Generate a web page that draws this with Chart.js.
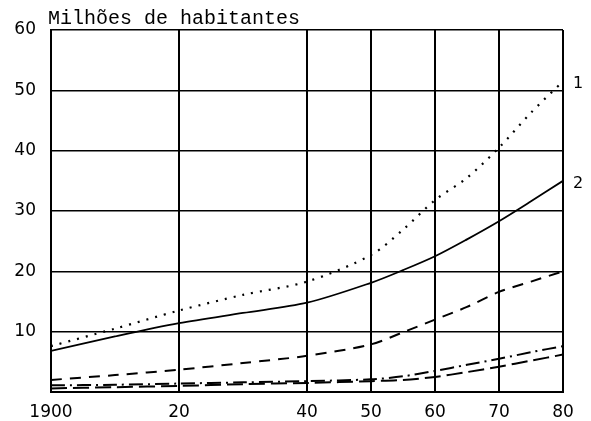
<!DOCTYPE html>
<html>
<head>
<meta charset="utf-8">
<script src="https://cdn.jsdelivr.net/npm/chart.js@4/dist/chart.umd.min.js"></script>
<style>
html,body{margin:0;padding:0;background:#fff;}
#wrap{width:591px;height:421px;position:relative;}
</style>
</head>
<body>
<div id="wrap"><canvas id="c" width="591" height="421"></canvas></div>
<script>
const titleText = "Milhões de habitantes";
const years = [1900, 1910, 1920, 1930, 1940, 1950, 1955, 1960, 1965, 1970, 1975, 1980];
const xTicks = [1900, 1920, 1940, 1950, 1960, 1970, 1980];
const xTickLabels = ["1900", "20", "40", "50", "60", "70", "80"];
const yTicks = [0, 10, 20, 30, 40, 50, 60];
const series1 = [7.6, 10.5, 13.5, 16.1, 18.3, 22.7, 26.9, 31.8, 35.5, 40.5, 46.3, 51.5];
const series2 = [6.8, 9.2, 11.4, 13.1, 14.8, 18.1, 20.2, 22.5, 25.3, 28.3, 31.6, 35.0];
const series3 = [2.0, 2.8, 3.7, 4.8, 6.0, 7.9, 9.9, 12.0, 14.1, 16.6, 18.3, 20.0];
const series4 = [1.1, 1.2, 1.4, 1.6, 1.8, 2.1, 2.6, 3.5, 4.5, 5.5, 6.6, 7.6];
const series5 = [0.6, 0.8, 1.0, 1.3, 1.5, 1.8, 2.0, 2.5, 3.3, 4.2, 5.2, 6.2];
const seriesLabels = ["1", "2", "", "", ""];

function pts(vals){ return years.map((y,i)=>({x:y, y:vals[i]})); }

const textPlugin = {
  id: 'texts',
  afterDraw(chart){
    const ctx = chart.ctx, ca = chart.chartArea;
    const xs = chart.scales.x, ys = chart.scales.y;
    ctx.save();
    ctx.fillStyle = '#000';
    ctx.font = '20px "Liberation Mono"';
    ctx.textAlign = 'left';
    ctx.textBaseline = 'alphabetic';
    ctx.fillText(titleText, ca.left - 3, ca.top - 6);
    ctx.font = '16px "DejaVu Sans"';
    ctx.textBaseline = 'middle';
    chart.data.datasets.forEach((ds, i) => {
      const lab = seriesLabels[i];
      if (!lab) return;
      const last = ds.data[ds.data.length - 1].y;
      ctx.fillText(lab, xs.right + 10, ys.getPixelForValue(last) + 3);
    });
    ctx.restore();
  }
};

new Chart(document.getElementById('c'), {
  type: 'line',
  data: {
    datasets: [
      {data: pts(series1), borderColor:'#000', borderWidth:2.2, borderDash:[2,7], pointRadius:0, tension:0.3},
      {data: pts(series2), borderColor:'#000', borderWidth:1.8, pointRadius:0, tension:0.3},
      {data: pts(series3), borderColor:'#000', borderWidth:2, borderDash:[11,8], pointRadius:0, tension:0.3},
      {data: pts(series4), borderColor:'#000', borderWidth:2, borderDash:[14,5,2,5], pointRadius:0, tension:0.3},
      {data: pts(series5), borderColor:'#000', borderWidth:2, borderDash:[16,6], pointRadius:0, tension:0.3}
    ]
  },
  options: {
    responsive: false,
    animation: false,
    layout: {padding: {left: 0, right: 28, top: 30, bottom: 0}},
    plugins: {legend: {display:false}, tooltip: {enabled:false}, title:{display:false}},
    scales: {
      x: {
        type: 'linear', min: 1900, max: 1980,
        afterBuildTicks(s){ s.ticks = xTicks.map(v=>({value:v})); },
        afterFit(s){ s.height = 29; },
        grid: {color:'#000', lineWidth:2, drawTicks:false},
        border: {color:'#000', width:2},
        ticks: {
          color:'#000', font:{family:'"DejaVu Sans"', size:17}, padding:10, maxRotation:0, autoSkip:false,
          callback(v){ const i = xTicks.indexOf(v); return i >= 0 ? xTickLabels[i] : ''; }
        }
      },
      y: {
        min: 0, max: 60,
        afterBuildTicks(s){ s.ticks = yTicks.map(v=>({value:v})); },
        afterFit(s){ s.width = 51; },
        grid: {color:'#000', lineWidth:1.6, drawTicks:false},
        border: {color:'#000', width:2},
        ticks: {
          color:'#000', font:{family:'"DejaVu Sans"', size:17}, padding:15,
          callback(v){ return v === 0 ? '' : String(v); }
        }
      }
    }
  },
  plugins: [textPlugin]
});
</script>
</body>
</html>
